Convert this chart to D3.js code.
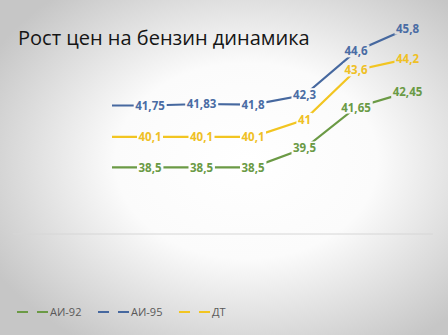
<!DOCTYPE html>
<html>
<head>
<meta charset="utf-8">
<script src="https://cdn.jsdelivr.net/npm/d3@7"></script>
<style>
  html, body { margin: 0; padding: 0; }
  body { width: 448px; height: 335px; overflow: hidden; }
</style>
</head>
<body>
<script>
const periods = [0, 1, 2, 3, 4, 5, 6];
const ai92 = [38.5, 38.5, 38.5, 38.5, 39.5, 41.65, 42.45];
const ai95 = [41.75, 41.75, 41.83, 41.8, 42.3, 44.6, 45.8];
const dt = [40.1, 40.1, 40.1, 40.1, 41, 43.6, 44.2];
const seriesNames = ['АИ-92', 'АИ-95', 'ДТ'];
const title = 'Рост цен на бензин динамика';

const width = 448;
const height = 335;

const series = [
  { name: seriesNames[0], values: ai92, color: '#6b9a45', text: '#6a9a45' },
  { name: seriesNames[1], values: ai95, color: '#46689f', text: '#4a6ca4' },
  { name: seriesNames[2], values: dt, color: '#f2c521', text: '#efc025' }
];

const fmt = (v) => String(v).replace('.', ',');

const svg = d3.select('body')
  .append('svg')
  .attr('width', width)
  .attr('height', height);

const defs = svg.append('defs');
const grad = defs.append('radialGradient')
  .attr('id', 'bg')
  .attr('cx', '55%')
  .attr('cy', '48%')
  .attr('r', '65%');
grad.append('stop').attr('offset', '0%').attr('stop-color', '#ffffff');
grad.append('stop').attr('offset', '45%').attr('stop-color', '#fbfbfb');
grad.append('stop').attr('offset', '100%').attr('stop-color', '#c6c6c6');

svg.append('rect')
  .attr('width', width)
  .attr('height', height)
  .attr('fill', 'url(#bg)');

svg.append('text')
  .attr('x', 18)
  .attr('y', 45)
  .text(title)
  .style('font-family', '"Open Sans", sans-serif')
  .style('font-size', '20px')
  .style('fill', '#151515');

const xScale = d3.scalePoint()
  .domain(periods)
  .range([98.5, 407.5]);

const yScale = d3.scaleLinear()
  .domain([35, 46])
  .range([234, 24.6]);

// category axis line
svg.append('line')
  .attr('x1', 13)
  .attr('x2', 433)
  .attr('y1', yScale(35))
  .attr('y2', yScale(35))
  .attr('stroke', '#d6d6d6')
  .attr('stroke-width', 1);

defs.append('clipPath')
  .attr('id', 'plot')
  .append('rect')
  .attr('x', 112)
  .attr('y', 0)
  .attr('width', 330)
  .attr('height', yScale(35));

const mask = defs.append('mask').attr('id', 'labels');
mask.append('rect')
  .attr('width', width)
  .attr('height', height)
  .attr('fill', '#fff');

const lineGroup = svg.append('g')
  .attr('clip-path', 'url(#plot)')
  .append('g')
  .attr('mask', 'url(#labels)');

const labelGroup = svg.append('g');

const line = d3.line()
  .x((d, i) => xScale(periods[i]))
  .y((d) => yScale(d));

series.forEach((s) => {
  lineGroup.append('path')
    .attr('d', line(s.values))
    .attr('fill', 'none')
    .attr('stroke', s.color)
    .attr('stroke-width', 2.2);

  labelGroup.append('g')
    .selectAll('text')
    .data(s.values.slice(1))
    .enter()
    .append('text')
    .attr('x', (d, i) => xScale(periods[i + 1]))
    .attr('y', (d) => yScale(d))
    .attr('dy', '0.36em')
    .attr('text-anchor', 'middle')
    .text(fmt)
    .style('font-family', '"Open Sans", sans-serif')
    .style('font-size', '11.5px')
    .style('font-weight', 'bold')
    .style('fill', s.text)
    .each(function () {
      const b = this.getBBox();
      mask.append('rect')
        .attr('x', b.x - 1.5)
        .attr('y', b.y + 1)
        .attr('width', b.width + 3)
        .attr('height', b.height - 2)
        .attr('fill', '#000');
    });
});

// legend
const legendX = [17, 98, 179];
const legend = svg.append('g')
  .selectAll('g')
  .data(series)
  .enter()
  .append('g')
  .attr('transform', (d, i) => 'translate(' + legendX[i] + ',312)');

legend.append('line')
  .attr('x1', 0)
  .attr('x2', 31)
  .attr('y1', 0)
  .attr('y2', 0)
  .attr('stroke', (d) => d.color)
  .attr('stroke-width', 2)
  .attr('stroke-dasharray', '11,9');

legend.append('text')
  .attr('x', 33)
  .attr('y', 0)
  .attr('dy', '0.36em')
  .text((d) => d.name)
  .style('font-family', '"Open Sans", sans-serif')
  .style('font-size', '11px')
  .style('fill', '#595959');
</script>
</body>
</html>
